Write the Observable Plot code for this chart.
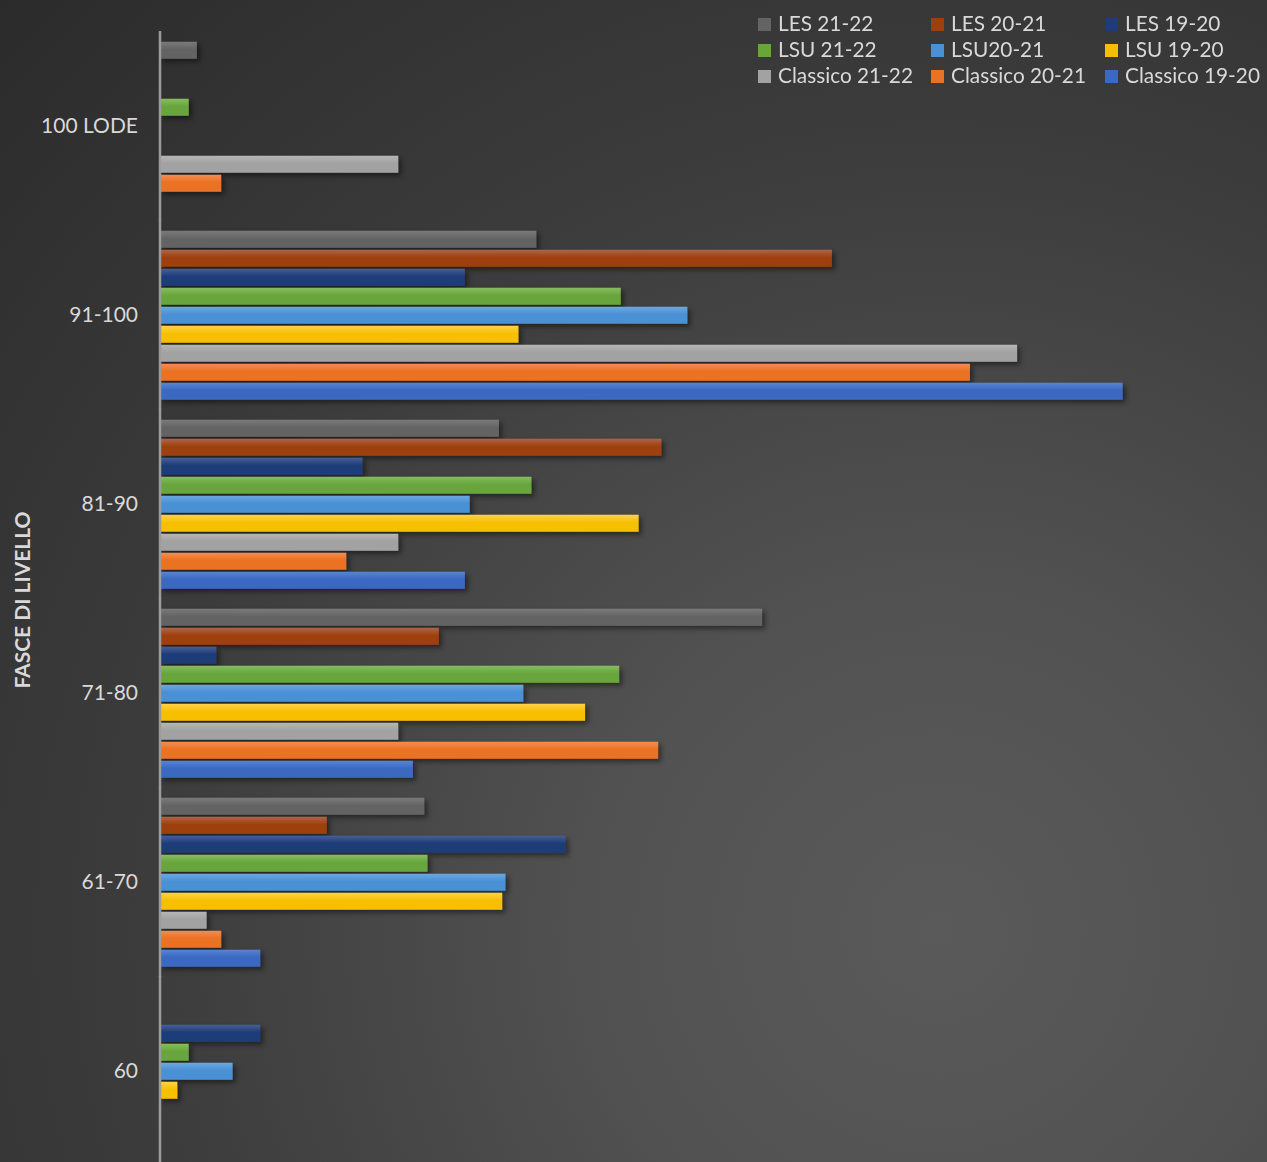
<!DOCTYPE html>
<html>
<head>
<meta charset="utf-8">
<script src="https://cdn.jsdelivr.net/npm/d3@7"></script>
<script src="https://cdn.jsdelivr.net/npm/@observablehq/plot@0.6"></script>
<style>
  html, body { margin: 0; padding: 0; overflow: hidden; }
  #wrap {
    position: relative; width: 1267px; height: 1162px;
    background: radial-gradient(circle at 74% 80%, #5a5a5a 0%, #525252 25%, #3c3c3c 60%, #2b2b2b 100%);
    font-family: Lato, "Open Sans", sans-serif;
  }
  #chart { position: absolute; left: 0; top: 0; }
  #legend {
    position: absolute; left: 758px; top: 10px;
    display: grid; grid-template-columns: 173px 174px 170px;
    color: #d9d9d9; font-size: 20.8px; line-height: 26px; white-space: nowrap;
  }
  .item { display: flex; align-items: center; }
  .sw { width: 13px; height: 13px; margin-right: 7px; margin-top: 2px; }
  #ytitle {
    position: absolute; left: 21px; top: 600px;
    transform: translate(-50%, -50%) rotate(-90deg);
    color: #d9d9d9; font-weight: bold; font-size: 21px; white-space: nowrap;
  }
</style>
</head>
<body>
<div id="wrap">
  <div id="chart"></div>
  <div id="legend"></div>
  <div id="ytitle">FASCE DI LIVELLO</div>
</div>
<svg width="0" height="0" style="position:absolute">
  <defs id="defs"></defs>
</svg>
<script>
// Categories (top to bottom)
const categories = ["100 LODE", "91-100", "81-90", "71-80", "61-70", "60"];
// Series (order within each group, top to bottom)
const seriesNames = ["LES 21-22", "LES 20-21", "LES 19-20", "LSU 21-22", "LSU20-21", "LSU 19-20", "Classico 21-22", "Classico 20-21", "Classico 19-20"];
// Values (%) per series, in category order
const les2122 = [2.3, 23.2, 20.9, 37.1, 16.3, 0];
const les2021 = [0, 41.4, 30.9, 17.2, 10.3, 0];
const les1920 = [0, 18.8, 12.5, 3.5, 25.0, 6.2];
const lsu2122 = [1.8, 28.4, 22.9, 28.3, 16.5, 1.8];
const lsu2021 = [0, 32.5, 19.1, 22.4, 21.3, 4.5];
const lsu1920 = [0, 22.1, 29.5, 26.2, 21.1, 1.1];
const cla2122 = [14.7, 52.8, 14.7, 14.7, 2.9, 0];
const cla2021 = [3.8, 49.9, 11.5, 30.7, 3.8, 0];
const cla1920 = [0, 59.3, 18.8, 15.6, 6.2, 0];
const seriesValues = [les2122, les2021, les1920, lsu2122, lsu2021, lsu1920, cla2122, cla2021, cla1920];

// Colours
const baseColors = ["#646464", "#9e400e", "#1f3c78", "#68a63c", "#4a90d4", "#f6c000", "#a2a2a2", "#ea7223", "#3a69c2"];
const topColors  = ["#7a7a7a", "#b06549", "#465f98", "#86bd60", "#6ca8e0", "#ffd24a", "#b6b6b6", "#f48d50", "#5a84d2"];

// Gradient + shadow defs
const defs = document.getElementById("defs");
let defsHtml = `<filter id="shadow" x="-5%" y="-50%" width="110%" height="220%">
  <feDropShadow dx="3" dy="3" stdDeviation="2.5" flood-color="#000" flood-opacity="0.45"/></filter>`;
seriesNames.forEach((s, i) => {
  defsHtml += `<linearGradient id="g${i}" x1="0" y1="0" x2="0" y2="1">
    <stop offset="0" stop-color="${topColors[i]}"/>
    <stop offset="0.45" stop-color="${baseColors[i]}"/>
    <stop offset="1" stop-color="${baseColors[i]}"/></linearGradient>`;
});
defs.innerHTML = defsHtml;

// Long-form table
const data = [];
seriesNames.forEach((s, i) => {
  categories.forEach((c, j) => data.push({cat: c, series: s, value: seriesValues[i][j]}));
});

const chart = Plot.plot({
  width: 1267,
  height: 1162,
  marginLeft: 159.5,
  marginRight: 133,
  marginTop: 30.25,
  marginBottom: -5,
  style: {background: "transparent", fontFamily: "Lato, 'Open Sans', sans-serif"},
  x: {domain: [0, 60], axis: null},
  y: {domain: seriesNames, axis: null, paddingInner: 0.1, paddingOuter: 0.05},
  fy: {domain: categories, paddingInner: 0.09, paddingOuter: 0.045, axis: null, label: null},
  marks: [
    ...seriesNames.map((s, i) => Plot.barX(data.filter(d => d.series === s), {
      x: "value", y: "series", fy: "cat", fill: `url(#g${i})`
    })),
    Plot.ruleX([0], {stroke: "#9c9c9c", strokeWidth: 2.5, insetTop: -9, insetBottom: -9}),
    Plot.axisFy({anchor: "left", tickSize: 0, tickPadding: 22, fontSize: 21, fill: "#d9d9d9", label: null})
  ]
});
chart.querySelectorAll('g[aria-label="bar"]').forEach(g => g.setAttribute("filter", "url(#shadow)"));
document.getElementById("chart").appendChild(chart);

// Legend
const legend = document.getElementById("legend");
seriesNames.forEach((s, i) => {
  const it = document.createElement("div");
  it.className = "item";
  it.innerHTML = `<span class="sw" style="background:${baseColors[i]}"></span><span>${s}</span>`;
  legend.appendChild(it);
});
</script>
</body>
</html>
